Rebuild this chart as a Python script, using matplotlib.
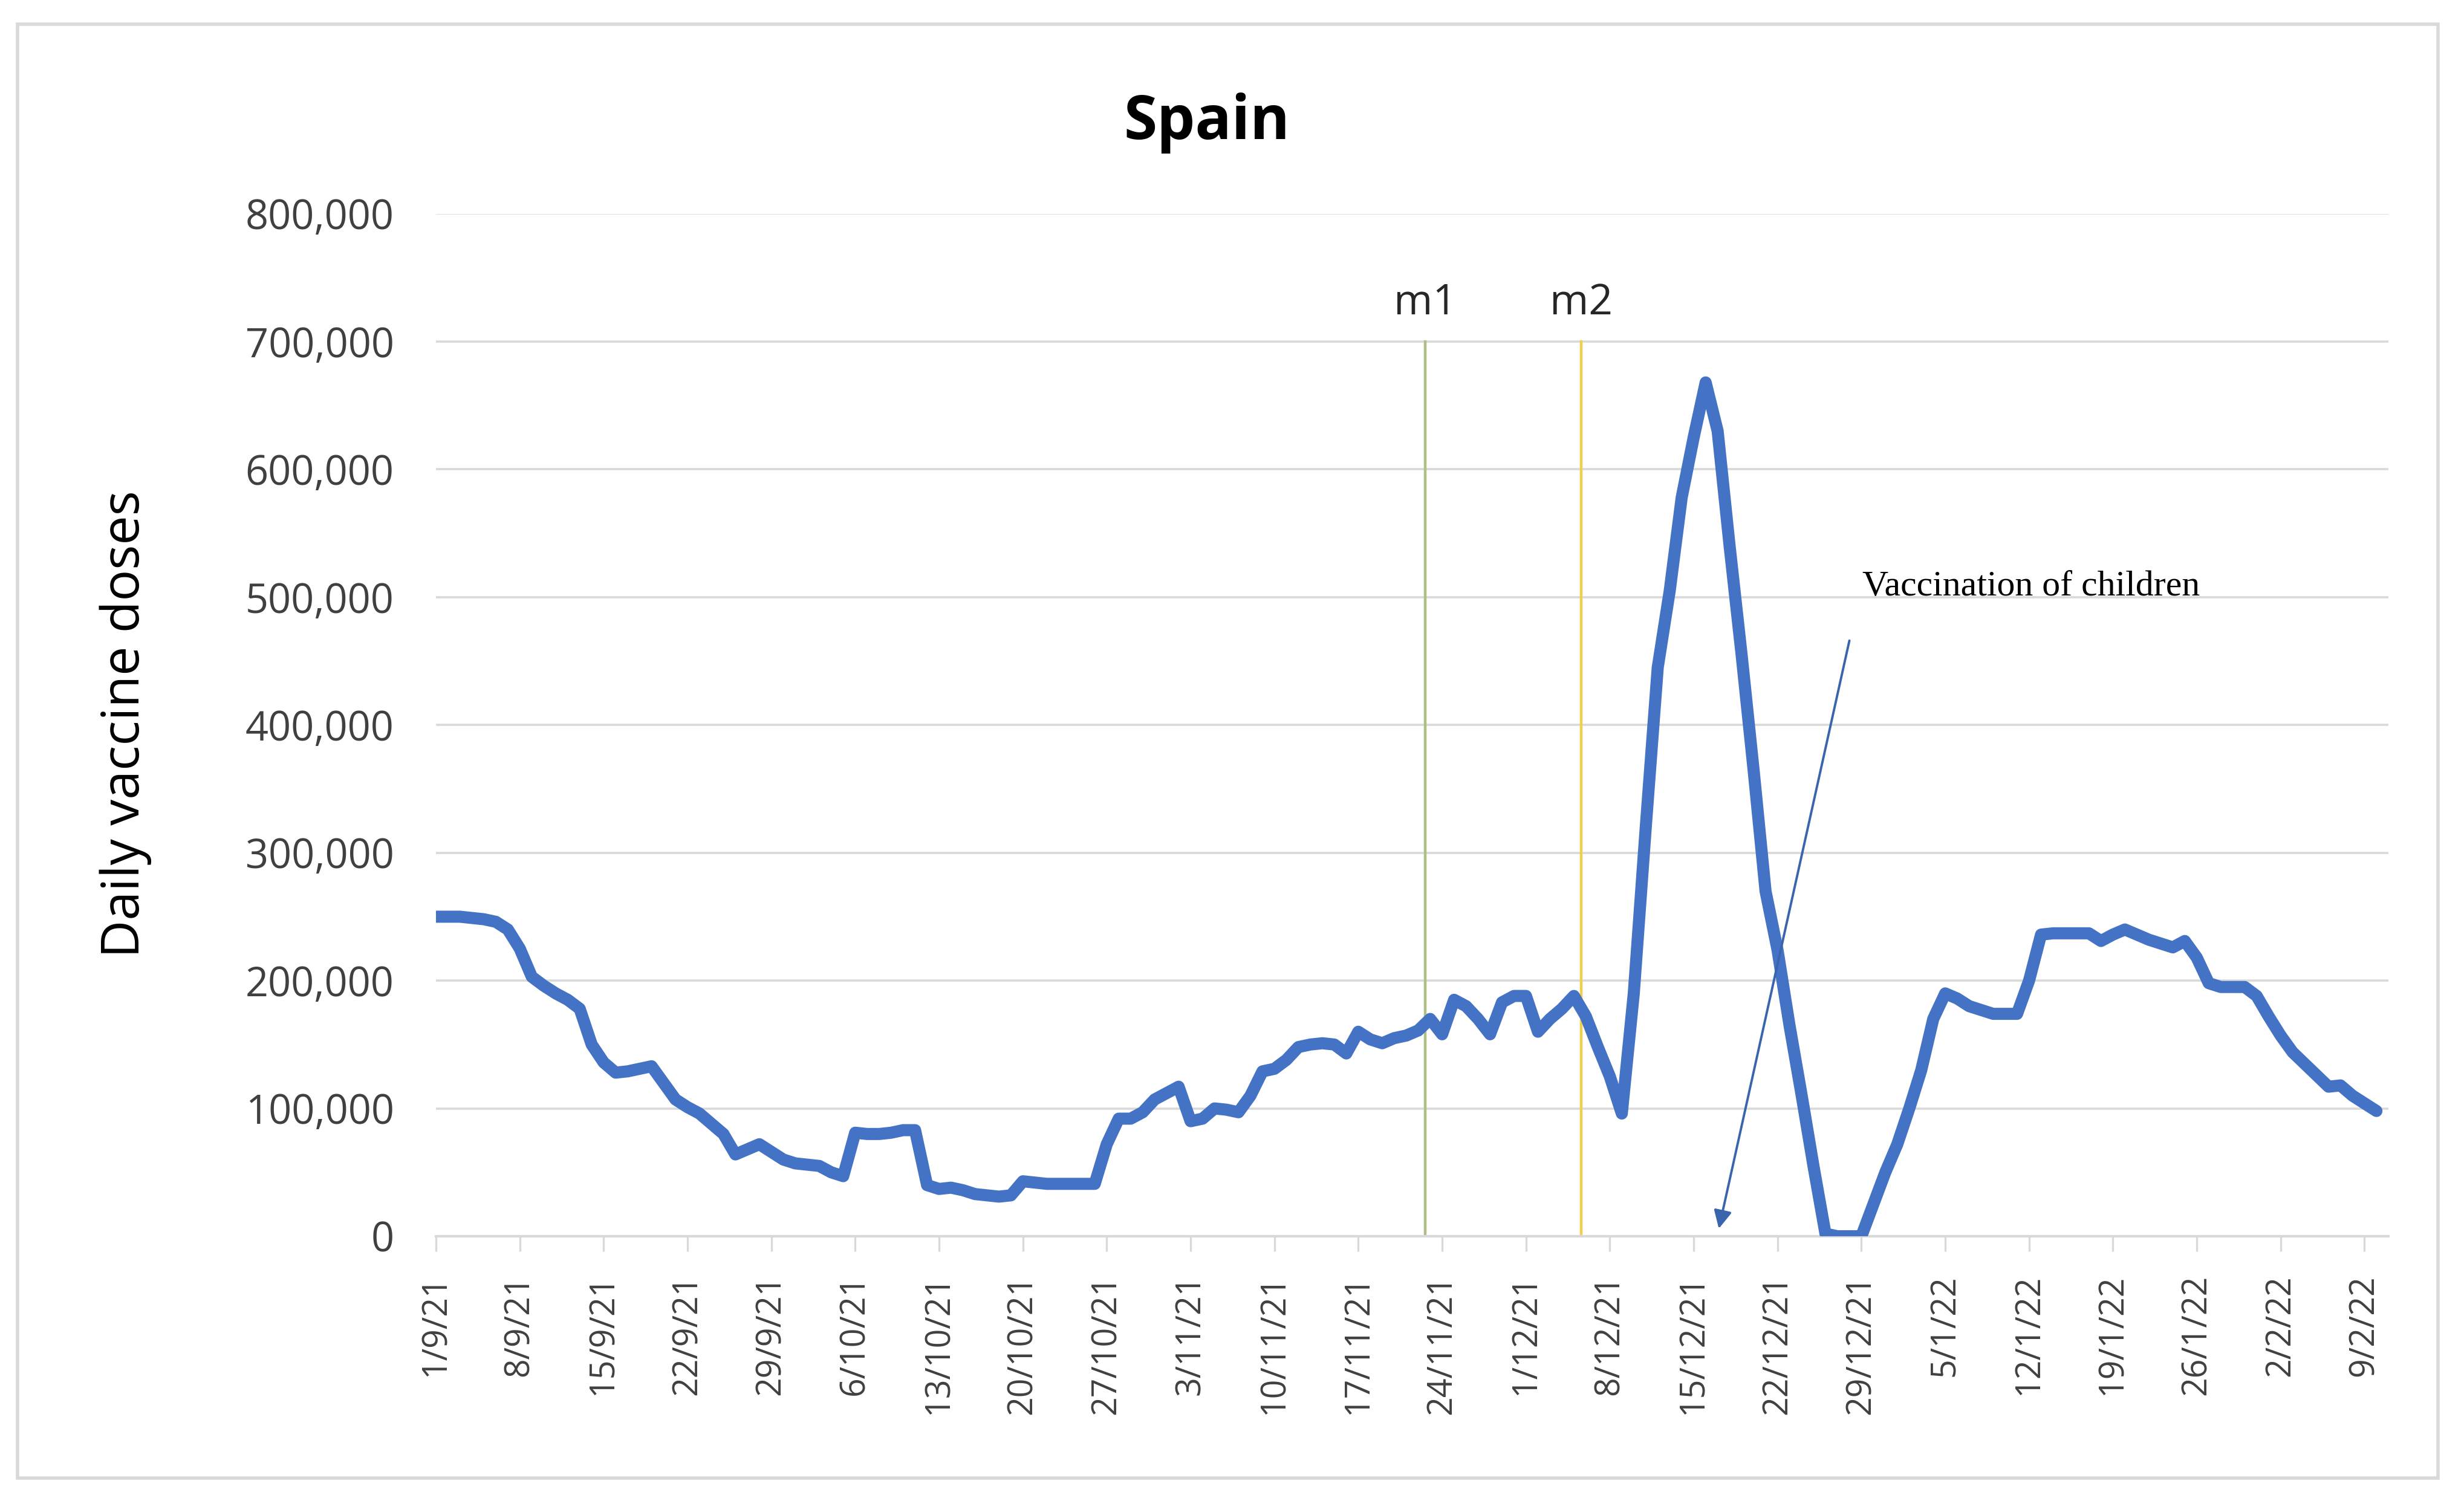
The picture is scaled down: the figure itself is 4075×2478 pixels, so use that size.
import matplotlib
matplotlib.use("Agg")
import matplotlib.pyplot as plt
import pandas as pd
from matplotlib.patches import Rectangle

# ---------------- data ----------------
start_date = "2021-09-01"
daily_doses_thousands = [
    250, 250, 250, 249, 248, 246, 240, 225, 203, 196,   # 0-9
    190, 185, 178, 150, 136, 128, 129, 131, 133, 120,   # 10-19
    107, 101, 96, 88, 80, 64, 68, 72, 66, 60,           # 20-29
    57, 56, 55, 50, 47, 81, 80, 80, 81, 83,             # 30-39
    83, 40, 37, 38, 36, 33, 32, 31, 32, 43,             # 40-49
    42, 41, 41, 41, 41, 41, 72, 92, 92, 97,             # 50-59
    107, 112, 117, 90, 92, 100, 99, 97, 110, 129,       # 60-69
    131, 138, 148, 150, 151, 150, 143, 160, 154, 151,   # 70-79
    155, 157, 161, 170, 158, 185, 180, 170, 158, 183,   # 80-89
    188, 188, 160, 170, 178, 188, 172, 148, 125, 96,    # 90-99
    190, 320, 445, 505, 578, 625, 668, 630, 540, 455,   # 100-109
    365, 270, 224, 165, 111, 55, 2, 0, 0, 0,            # 110-119
    25, 50, 72, 100, 130, 170, 190, 186, 180, 177,      # 120-129
    174, 174, 174, 200, 236, 237, 237, 237, 237, 231,   # 130-139
    236, 240, 236, 232, 229, 226, 231, 218, 198, 195,   # 140-149
    195, 195, 188, 172, 157, 144, 135, 126, 117, 118,   # 150-159
    110, 104, 98,                                       # 160-162
]
tick_every_days = 7
y_ticks = [0, 100000, 200000, 300000, 400000, 500000, 600000, 700000, 800000]
marker_names = ["m1", "m2"]
marker_days = [82.6, 95.6]
marker_top = 700000
annotation_text = "Vaccination of children"

# ---------------- derived ----------------
values = [v * 1000 for v in daily_doses_thousands]
dates = pd.date_range(start_date, periods=len(values), freq="D")
days = list(range(len(values)))
tick_pos = list(range(0, len(values), tick_every_days))
tick_lab = [f"{dates[i].day}/{dates[i].month}/{dates[i].strftime('%y')}" for i in tick_pos]

W, H, DPI = 4075, 2478, 200
fig = plt.figure(figsize=(W / DPI, H / DPI), dpi=DPI)
fig.patch.set_facecolor("white")

# outer chart border
fig.add_artist(Rectangle((29 / W, 1 - 2445 / H), (4032 - 29) / W, (2445 - 40) / H,
                         transform=fig.transFigure, fill=False,
                         edgecolor="#d9d9d9", linewidth=2))

ax = fig.add_axes([721 / W, 1 - 2045 / H, (3950 - 721) / W, (2045 - 353.5) / H])
ax.set_xlim(0, 163)
ax.set_ylim(0, 800000)

ax.set_yticks(y_ticks)
ax.set_yticklabels([f"{t:,}" for t in y_ticks], fontsize=24, color="#404040",
                   family="Open Sans")
ax.tick_params(axis="y", length=0, pad=25)
ax.grid(axis="y", color="#d9d9d9", linewidth=1.3)
ax.set_axisbelow(True)

ax.set_xticks(tick_pos)
ax.set_xticklabels(tick_lab, rotation=90, fontsize=20, color="#404040",
                   family="Open Sans")
ax.tick_params(axis="x", length=9, width=1.2, color="#d9d9d9", pad=14, direction="out")

for s in ["top", "right", "left"]:
    ax.spines[s].set_visible(False)
ax.spines["bottom"].set_color("#d9d9d9")
ax.spines["bottom"].set_linewidth(1.5)

# marker lines
marker_colors = ["#aebf85", "#f2cf4a"]
for name, d, c in zip(marker_names, marker_days, marker_colors):
    ax.plot([d, d], [0, marker_top], color=c, linewidth=1.6, zorder=2)
    ax.text(d, 730000, name, ha="center", va="center", fontsize=25,
            family="Open Sans", color="#262626")

# main series
ax.plot(days, values, color="#4472C4", linewidth=7.2, solid_joinstyle="round",
        solid_capstyle="round", zorder=3)

# annotation
ax.annotate("", xy=(107.1, 6000), xytext=(118.0, 466000),
            arrowprops=dict(arrowstyle="-|>,head_length=0.9,head_width=0.45",
                            color="#3a64ad", linewidth=1.4, shrinkA=0, shrinkB=0),
            zorder=4)
ax.text(119.1, 508000, annotation_text, ha="left", va="center", fontsize=21.5,
        family="Liberation Serif", color="black")

fig.text(1996 / W, 1 - 203 / H, "Spain", ha="center", va="center", fontsize=36,
         fontweight="bold", family="Open Sans", color="black")
fig.text(208 / W, 1 - 1198 / H, "Daily vaccine doses", ha="center", va="center",
         rotation=90, fontsize=31, family="Open Sans", color="black")

fig.savefig("out.png", dpi=DPI, facecolor="white")
